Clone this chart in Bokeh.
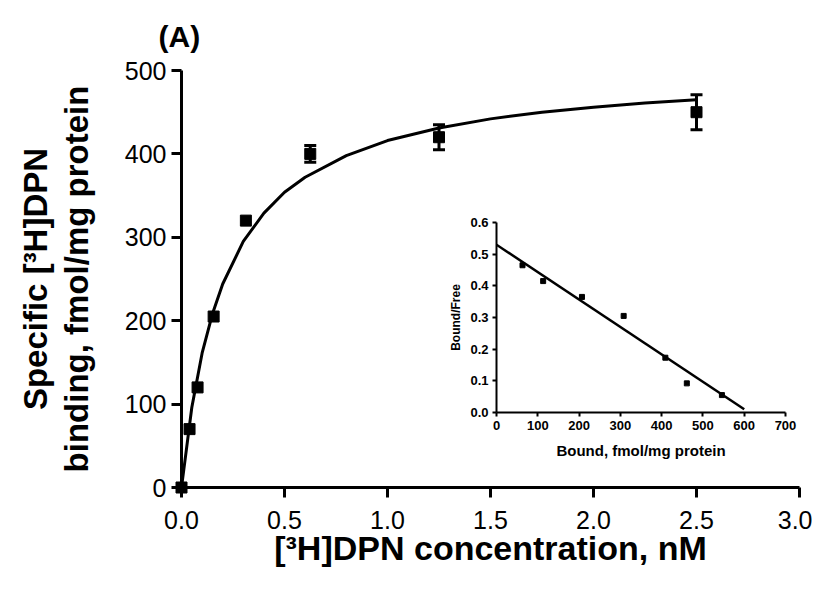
from bokeh.plotting import figure
from bokeh.models import (Range1d, FixedTicker, Whisker, TeeHead, ColumnDataSource,
                          NumeralTickFormatter)
from bokeh.embed import file_html
from bokeh.resources import INLINE

# ---- main panel data (saturation binding) ----
conc = [0.0, 0.039, 0.078, 0.156, 0.3125, 0.625, 1.25, 2.5]
binding = [0, 70, 120, 205, 320, 400, 420, 450]
sem = [0, 0, 0, 0, 0, 10, 15, 21]

fit_conc = [0.0, 0.05, 0.1, 0.15, 0.2, 0.3, 0.4, 0.5, 0.6, 0.8, 1.0, 1.25, 1.5, 1.75, 2.0, 2.25, 2.5]
fit_binding = [0, 96, 161, 208, 244, 295, 329, 354, 372, 398, 416, 431, 442, 450, 456, 461, 465]

x_ticks = [0.0, 0.5, 1.0, 1.5, 2.0, 2.5, 3.0]
y_ticks = [0, 100, 200, 300, 400, 500]

# ---- inset data (Scatchard) ----
bound = [63, 113, 207, 308, 409, 461, 546]
bound_free = [0.465, 0.415, 0.365, 0.305, 0.173, 0.092, 0.055]
line_bound = [0, 600]
line_bf = [0.53, 0.01]
inset_x_ticks = [0, 100, 200, 300, 400, 500, 600, 700]
inset_y_ticks = [0.0, 0.1, 0.2, 0.3, 0.4, 0.5, 0.6]

FONT = "Liberation Sans"
W, H = 812, 583
POS = {"position": "absolute", "top": "0px", "left": "0px"}

p = figure(width=W, height=H, x_range=Range1d(0, 3.0), y_range=Range1d(0, 500),
           output_backend="svg", toolbar_location=None,
           min_border_left=181, min_border_right=13, min_border_top=70, min_border_bottom=96)
p.styles = POS
p.xgrid.visible = False
p.ygrid.visible = False
p.outline_line_color = None

p.line(fit_conc, fit_binding, line_color="black", line_width=3)
p.scatter(conc, binding, marker="square", size=11, fill_color="black", line_color="black",
          level="overlay")

eb_x = [c for c, s in zip(conc, sem) if s > 0]
eb_up = [b + s for b, s in zip(binding, sem) if s > 0]
eb_lo = [b - s for b, s in zip(binding, sem) if s > 0]
eb_src = ColumnDataSource(dict(x=eb_x, upper=eb_up, lower=eb_lo))
wh = Whisker(source=eb_src, base="x", upper="upper", lower="lower", dimension="height",
             line_color="black", line_width=3,
             upper_head=TeeHead(size=12, line_width=3, line_color="black"),
             lower_head=TeeHead(size=12, line_width=3, line_color="black"))
p.add_layout(wh)

for ax in p.axis:
    ax.axis_line_width = 3
    ax.axis_line_color = "black"
    ax.major_tick_line_width = 3
    ax.major_tick_line_color = "black"
    ax.major_tick_out = 10
    ax.major_tick_in = 0
    ax.minor_tick_out = 0
    ax.minor_tick_in = 0
    ax.major_label_text_font = FONT
    ax.major_label_text_font_size = "25px"
    ax.major_label_text_color = "black"
    ax.axis_label_text_font = FONT
    ax.axis_label_text_font_style = "bold"
    ax.axis_label_text_color = "black"

p.xaxis.ticker = FixedTicker(ticks=x_ticks)
p.xaxis.formatter = NumeralTickFormatter(format="0.0")
p.xaxis.major_label_standoff = 13
p.xaxis.axis_label = "[\u00b3H]DPN concentration, nM"
p.xaxis.axis_label_text_font_size = "34px"
p.xaxis.axis_label_standoff = -3

p.yaxis.ticker = FixedTicker(ticks=y_ticks)
p.yaxis.major_label_standoff = 5
p.yaxis.axis_label = "Specific [\u00b3H]DPN\nbinding, fmol/mg protein"
p.yaxis.axis_label_text_font_size = "33px"
p.yaxis.axis_label_text_line_height = 1.1
p.yaxis.axis_label_standoff = 27

p.title.text = "(A)"
p.title.text_font = FONT
p.title.text_font_size = "30px"
p.title.text_font_style = "bold"
p.title.text_color = "black"
p.title.align = "left"
p.title.offset = -23
p.title.standoff = 35

# ---- inset (same canvas size, overlaid; frame placed by borders) ----
ins = figure(width=W, height=H, x_range=Range1d(0, 700), y_range=Range1d(0, 0.6),
             output_backend="svg", toolbar_location=None,
             min_border_left=496, min_border_right=27, min_border_top=222, min_border_bottom=171)
ins.styles = POS
ins.xgrid.visible = False
ins.ygrid.visible = False
ins.outline_line_color = None
ins.border_fill_alpha = 0
ins.background_fill_alpha = 0

ins.line(line_bound, line_bf, line_color="black", line_width=2.5)
ins.scatter(bound, bound_free, marker="square", size=5, fill_color="black", line_color="black")

for ax in ins.axis:
    ax.axis_line_width = 2
    ax.axis_line_color = "black"
    ax.major_tick_line_width = 2
    ax.major_tick_line_color = "black"
    ax.major_tick_out = 4
    ax.major_tick_in = 0
    ax.minor_tick_out = 0
    ax.minor_tick_in = 0
    ax.major_label_text_font = FONT
    ax.major_label_text_font_size = "13px"
    ax.major_label_text_font_style = "bold"
    ax.major_label_text_color = "black"
    ax.axis_label_text_font = FONT
    ax.axis_label_text_font_style = "bold"
    ax.axis_label_text_color = "black"
    ax.axis_label_text_font_size = "15px"

ins.xaxis.ticker = FixedTicker(ticks=inset_x_ticks)
ins.xaxis.major_label_standoff = 4
ins.xaxis.axis_label = "Bound, fmol/mg protein"
ins.xaxis.axis_label_standoff = 9
ins.yaxis.ticker = FixedTicker(ticks=inset_y_ticks)
ins.yaxis.formatter = NumeralTickFormatter(format="0.0")
ins.yaxis.major_label_standoff = 4
ins.yaxis.axis_label = "Bound/Free"
ins.yaxis.axis_label_text_font_size = "12px"
ins.yaxis.axis_label_standoff = 4

open("out.html", "w").write(file_html([p, ins], INLINE))
